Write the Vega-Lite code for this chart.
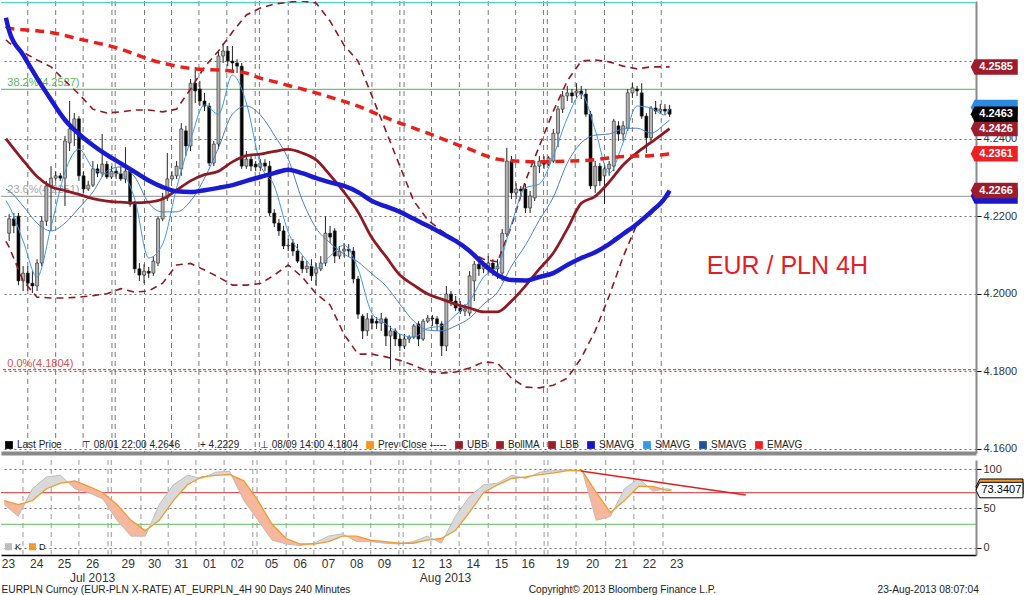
{
"$schema":"https://vega.github.io/schema/vega-lite/v6.json",
"padding":0,
"background":"white",
"spacing":5,
"config":{"view":{"stroke":null},"axis":{"labelFont":"Liberation Sans","titleFont":"Liberation Sans"},"legend":{"labelFont":"Liberation Sans"},"text":{"font":"Liberation Sans"}},
"datasets":{
"candles":[
{"n":1,"o":4.2156,"h":4.2205,"l":4.2136,"c":4.2193},{"n":2,"o":4.2193,"h":4.2208,"l":4.2156,"c":4.2175},{"n":3,"o":4.2200,"h":4.2208,"l":4.2022,"c":4.2033},{"n":4,"o":4.2033,"h":4.2071,"l":4.2007,"c":4.2053},{"n":5,"o":4.2053,"h":4.2071,"l":4.2007,"c":4.2027},{"n":6,"o":4.2027,"h":4.2058,"l":4.2002,"c":4.2020},{"n":7,"o":4.2020,"h":4.2089,"l":4.2007,"c":4.2079},{"n":8,"o":4.2079,"h":4.2200,"l":4.2071,"c":4.2187},{"n":9,"o":4.2187,"h":4.2291,"l":4.2175,"c":4.2278},{"n":10,"o":4.2278,"h":4.2329,"l":4.2162,"c":4.2298},
{"n":11,"o":4.2298,"h":4.2316,"l":4.2291,"c":4.2304},{"n":12,"o":4.2304,"h":4.2311,"l":4.2291,"c":4.2298},{"n":13,"o":4.2298,"h":4.2407,"l":4.2226,"c":4.2394},{"n":14,"o":4.2389,"h":4.2497,"l":4.2368,"c":4.2425},{"n":15,"o":4.2425,"h":4.2466,"l":4.2381,"c":4.2451},{"n":16,"o":4.2451,"h":4.2458,"l":4.2291,"c":4.2304},{"n":17,"o":4.2304,"h":4.2316,"l":4.2260,"c":4.2270},{"n":18,"o":4.2270,"h":4.2291,"l":4.2265,"c":4.2280},{"n":19,"o":4.2280,"h":4.2342,"l":4.2275,"c":4.2322},{"n":20,"o":4.2322,"h":4.2334,"l":4.2301,"c":4.2311},
{"n":21,"o":4.2311,"h":4.2412,"l":4.2301,"c":4.2334},{"n":22,"o":4.2334,"h":4.2342,"l":4.2296,"c":4.2301},{"n":23,"o":4.2301,"h":4.2329,"l":4.2296,"c":4.2316},{"n":24,"o":4.2316,"h":4.2324,"l":4.2296,"c":4.2309},{"n":25,"o":4.2309,"h":4.2329,"l":4.2291,"c":4.2296},{"n":26,"o":4.2296,"h":4.2378,"l":4.2285,"c":4.2316},{"n":27,"o":4.2316,"h":4.2322,"l":4.2224,"c":4.2231},{"n":28,"o":4.2231,"h":4.2239,"l":4.2053,"c":4.2064},{"n":29,"o":4.2064,"h":4.2079,"l":4.2033,"c":4.2048},{"n":30,"o":4.2048,"h":4.2076,"l":4.2027,"c":4.2058},
{"n":31,"o":4.2058,"h":4.2069,"l":4.2040,"c":4.2053},{"n":32,"o":4.2053,"h":4.2097,"l":4.2046,"c":4.2084},{"n":33,"o":4.2079,"h":4.2200,"l":4.2071,"c":4.2193},{"n":34,"o":4.2193,"h":4.2260,"l":4.2187,"c":4.2247},{"n":35,"o":4.2247,"h":4.2363,"l":4.2239,"c":4.2296},{"n":36,"o":4.2296,"h":4.2316,"l":4.2291,"c":4.2304},{"n":37,"o":4.2304,"h":4.2342,"l":4.2296,"c":4.2329},{"n":38,"o":4.2322,"h":4.2440,"l":4.2304,"c":4.2425},{"n":39,"o":4.2420,"h":4.2433,"l":4.2355,"c":4.2381},{"n":40,"o":4.2381,"h":4.2554,"l":4.2368,"c":4.2543},
{"n":41,"o":4.2543,"h":4.2585,"l":4.2492,"c":4.2523},{"n":42,"o":4.2528,"h":4.2549,"l":4.2484,"c":4.2497},{"n":43,"o":4.2497,"h":4.2518,"l":4.2471,"c":4.2484},{"n":44,"o":4.2484,"h":4.2492,"l":4.2329,"c":4.2337},{"n":45,"o":4.2337,"h":4.2394,"l":4.2329,"c":4.2386},{"n":46,"o":4.2386,"h":4.2626,"l":4.2373,"c":4.2613},{"n":47,"o":4.2613,"h":4.2646,"l":4.2595,"c":4.2626},{"n":48,"o":4.2626,"h":4.2639,"l":4.2587,"c":4.2600},{"n":49,"o":4.2600,"h":4.2639,"l":4.2574,"c":4.2595},{"n":50,"o":4.2595,"h":4.2605,"l":4.2569,"c":4.2587},
{"n":51,"o":4.2587,"h":4.2595,"l":4.2322,"c":4.2329},{"n":52,"o":4.2329,"h":4.2368,"l":4.2322,"c":4.2347},{"n":53,"o":4.2347,"h":4.2355,"l":4.2316,"c":4.2329},{"n":54,"o":4.2334,"h":4.2342,"l":4.2316,"c":4.2327},{"n":55,"o":4.2327,"h":4.2347,"l":4.2316,"c":4.2337},{"n":56,"o":4.2337,"h":4.2347,"l":4.2316,"c":4.2329},{"n":57,"o":4.2329,"h":4.2342,"l":4.2200,"c":4.2208},{"n":58,"o":4.2208,"h":4.2218,"l":4.2172,"c":4.2182},{"n":59,"o":4.2182,"h":4.2193,"l":4.2149,"c":4.2162},{"n":60,"o":4.2162,"h":4.2175,"l":4.2115,"c":4.2123},
{"n":61,"o":4.2123,"h":4.2141,"l":4.2110,"c":4.2125},{"n":62,"o":4.2131,"h":4.2141,"l":4.2097,"c":4.2110},{"n":63,"o":4.2110,"h":4.2128,"l":4.2079,"c":4.2084},{"n":64,"o":4.2084,"h":4.2097,"l":4.2053,"c":4.2064},{"n":65,"o":4.2064,"h":4.2084,"l":4.2053,"c":4.2071},{"n":66,"o":4.2071,"h":4.2089,"l":4.2033,"c":4.2046},{"n":67,"o":4.2053,"h":4.2079,"l":4.2020,"c":4.2064},{"n":68,"o":4.2064,"h":4.2097,"l":4.2058,"c":4.2079},{"n":69,"o":4.2079,"h":4.2200,"l":4.2071,"c":4.2156},{"n":70,"o":4.2156,"h":4.2175,"l":4.2131,"c":4.2146},
{"n":71,"o":4.2162,"h":4.2169,"l":4.2079,"c":4.2097},{"n":72,"o":4.2097,"h":4.2123,"l":4.2089,"c":4.2110},{"n":73,"o":4.2110,"h":4.2131,"l":4.2095,"c":4.2115},{"n":74,"o":4.2115,"h":4.2128,"l":4.2095,"c":4.2110},{"n":75,"o":4.2110,"h":4.2120,"l":4.2027,"c":4.2038},{"n":76,"o":4.2038,"h":4.2046,"l":4.1935,"c":4.1947},{"n":77,"o":4.1942,"h":4.1947,"l":4.1883,"c":4.1904},{"n":78,"o":4.1904,"h":4.1950,"l":4.1891,"c":4.1935},{"n":79,"o":4.1935,"h":4.1945,"l":4.1909,"c":4.1924},{"n":80,"o":4.1929,"h":4.1940,"l":4.1909,"c":4.1924},
{"n":81,"o":4.1924,"h":4.1950,"l":4.1904,"c":4.1935},{"n":82,"o":4.1935,"h":4.1940,"l":4.1865,"c":4.1891},{"n":83,"o":4.1891,"h":4.1917,"l":4.1804,"c":4.1904},{"n":84,"o":4.1904,"h":4.1911,"l":4.1865,"c":4.1883},{"n":85,"o":4.1883,"h":4.1896,"l":4.1852,"c":4.1865},{"n":86,"o":4.1865,"h":4.1896,"l":4.1857,"c":4.1883},{"n":87,"o":4.1883,"h":4.1893,"l":4.1873,"c":4.1888},{"n":88,"o":4.1888,"h":4.1922,"l":4.1883,"c":4.1917},{"n":89,"o":4.1922,"h":4.1929,"l":4.1865,"c":4.1883},{"n":90,"o":4.1883,"h":4.1935,"l":4.1878,"c":4.1929},
{"n":91,"o":4.1929,"h":4.1945,"l":4.1924,"c":4.1937},{"n":92,"o":4.1937,"h":4.1945,"l":4.1917,"c":4.1935},{"n":93,"o":4.1935,"h":4.1942,"l":4.1904,"c":4.1922},{"n":94,"o":4.1922,"h":4.1929,"l":4.1839,"c":4.1865},{"n":95,"o":4.1865,"h":4.2020,"l":4.1852,"c":4.1999},{"n":96,"o":4.1999,"h":4.2007,"l":4.1968,"c":4.1981},{"n":97,"o":4.1981,"h":4.1994,"l":4.1955,"c":4.1963},{"n":98,"o":4.1963,"h":4.1981,"l":4.1947,"c":4.1955},{"n":99,"o":4.1955,"h":4.1973,"l":4.1942,"c":4.1960},{"n":100,"o":4.1950,"h":4.2058,"l":4.1942,"c":4.2046},
{"n":101,"o":4.2033,"h":4.2084,"l":4.1981,"c":4.2076},{"n":102,"o":4.2076,"h":4.2084,"l":4.2046,"c":4.2064},{"n":103,"o":4.2064,"h":4.2084,"l":4.2053,"c":4.2071},{"n":104,"o":4.2071,"h":4.2097,"l":4.2053,"c":4.2079},{"n":105,"o":4.2079,"h":4.2089,"l":4.2046,"c":4.2064},{"n":106,"o":4.2064,"h":4.2089,"l":4.2038,"c":4.2071},{"n":107,"o":4.2053,"h":4.2167,"l":4.2033,"c":4.2156},{"n":108,"o":4.2154,"h":4.2376,"l":4.2146,"c":4.2342},{"n":109,"o":4.2342,"h":4.2355,"l":4.2244,"c":4.2260},{"n":110,"o":4.2260,"h":4.2285,"l":4.2244,"c":4.2270},
{"n":111,"o":4.2270,"h":4.2278,"l":4.2252,"c":4.2265},{"n":112,"o":4.2270,"h":4.2283,"l":4.2208,"c":4.2221},{"n":113,"o":4.2221,"h":4.2265,"l":4.2208,"c":4.2252},{"n":114,"o":4.2247,"h":4.2342,"l":4.2239,"c":4.2329},{"n":115,"o":4.2329,"h":4.2355,"l":4.2311,"c":4.2342},{"n":116,"o":4.2342,"h":4.2355,"l":4.2322,"c":4.2334},{"n":117,"o":4.2334,"h":4.2355,"l":4.2329,"c":4.2350},{"n":118,"o":4.2342,"h":4.2425,"l":4.2337,"c":4.2414},{"n":119,"o":4.2414,"h":4.2484,"l":4.2378,"c":4.2476},{"n":120,"o":4.2476,"h":4.2523,"l":4.2466,"c":4.2510},
{"n":121,"o":4.2510,"h":4.2536,"l":4.2497,"c":4.2518},{"n":122,"o":4.2518,"h":4.2528,"l":4.2492,"c":4.2510},{"n":123,"o":4.2518,"h":4.2543,"l":4.2505,"c":4.2523},{"n":124,"o":4.2523,"h":4.2536,"l":4.2502,"c":4.2515},{"n":125,"o":4.2515,"h":4.2528,"l":4.2456,"c":4.2463},{"n":126,"o":4.2463,"h":4.2471,"l":4.2270,"c":4.2278},{"n":127,"o":4.2278,"h":4.2342,"l":4.2260,"c":4.2329},{"n":128,"o":4.2329,"h":4.2337,"l":4.2278,"c":4.2291},{"n":129,"o":4.2304,"h":4.2334,"l":4.2231,"c":4.2322},{"n":130,"o":4.2322,"h":4.2342,"l":4.2304,"c":4.2334},
{"n":131,"o":4.2329,"h":4.2451,"l":4.2316,"c":4.2445},{"n":132,"o":4.2433,"h":4.2445,"l":4.2394,"c":4.2412},{"n":133,"o":4.2412,"h":4.2445,"l":4.2394,"c":4.2433},{"n":134,"o":4.2427,"h":4.2528,"l":4.2420,"c":4.2518},{"n":135,"o":4.2518,"h":4.2543,"l":4.2505,"c":4.2531},{"n":136,"o":4.2528,"h":4.2536,"l":4.2510,"c":4.2523},{"n":137,"o":4.2518,"h":4.2543,"l":4.2451,"c":4.2458},{"n":138,"o":4.2458,"h":4.2466,"l":4.2363,"c":4.2402},{"n":139,"o":4.2402,"h":4.2484,"l":4.2394,"c":4.2479},{"n":140,"o":4.2479,"h":4.2497,"l":4.2463,"c":4.2471},
{"n":141,"o":4.2471,"h":4.2489,"l":4.2463,"c":4.2476},{"n":142,"o":4.2476,"h":4.2489,"l":4.2461,"c":4.2471},{"n":143,"o":4.2476,"h":4.2487,"l":4.2456,"c":4.2463}
],
"lines":[
{"n":0.3,"ema":4.2690,"sma":4.2712,"bma":4.2400,"ubb":4.2655,"lbb":4.2135,"fast":4.2240,"slow":4.2270},
{"n":1,"ema":4.2685,"sma":4.2678,"bma":4.2389,"ubb":4.2647,"lbb":4.2120,"fast":4.2226,"slow":4.2265},
{"n":4,"ema":4.2681,"sma":4.2616,"bma":4.2344,"ubb":4.2623,"lbb":4.2033,"fast":4.2136,"slow":4.2226},
{"n":7,"ema":4.2678,"sma":4.2556,"bma":4.2302,"ubb":4.2603,"lbb":4.1991,"fast":4.2043,"slow":4.2182},
{"n":10,"ema":4.2674,"sma":4.2500,"bma":4.2276,"ubb":4.2585,"lbb":4.1989,"fast":4.2172,"slow":4.2162},
{"n":13,"ema":4.2666,"sma":4.2448,"bma":4.2266,"ubb":4.2549,"lbb":4.1989,"fast":4.2314,"slow":4.2182},
{"n":16,"ema":4.2657,"sma":4.2412,"bma":4.2256,"ubb":4.2515,"lbb":4.1991,"fast":4.2373,"slow":4.2221},
{"n":19,"ema":4.2649,"sma":4.2383,"bma":4.2245,"ubb":4.2476,"lbb":4.1995,"fast":4.2324,"slow":4.2262},
{"n":22,"ema":4.2641,"sma":4.2358,"bma":4.2239,"ubb":4.2466,"lbb":4.2000,"fast":4.2309,"slow":4.2316},
{"n":25,"ema":4.2631,"sma":4.2336,"bma":4.2236,"ubb":4.2469,"lbb":4.2013,"fast":4.2311,"slow":4.2327},
{"n":28,"ema":4.2618,"sma":4.2314,"bma":4.2234,"ubb":4.2474,"lbb":4.2004,"fast":4.2244,"slow":4.2301},
{"n":31,"ema":4.2605,"sma":4.2292,"bma":4.2236,"ubb":4.2474,"lbb":4.2007,"fast":4.2092,"slow":4.2234},
{"n":34,"ema":4.2595,"sma":4.2275,"bma":4.2244,"ubb":4.2469,"lbb":4.2027,"fast":4.2128,"slow":4.2211},
{"n":37,"ema":4.2587,"sma":4.2264,"bma":4.2267,"ubb":4.2476,"lbb":4.2074,"fast":4.2273,"slow":4.2211},
{"n":40,"ema":4.2581,"sma":4.2262,"bma":4.2291,"ubb":4.2528,"lbb":4.2078,"fast":4.2396,"slow":4.2239},
{"n":43,"ema":4.2578,"sma":4.2267,"bma":4.2307,"ubb":4.2585,"lbb":4.2061,"fast":4.2487,"slow":4.2298},
{"n":46,"ema":4.2577,"sma":4.2273,"bma":4.2316,"ubb":4.2626,"lbb":4.2043,"fast":4.2463,"slow":4.2376},
{"n":49,"ema":4.2574,"sma":4.2280,"bma":4.2340,"ubb":4.2675,"lbb":4.2022,"fast":4.2564,"slow":4.2463},
{"n":52,"ema":4.2569,"sma":4.2291,"bma":4.2356,"ubb":4.2719,"lbb":4.2022,"fast":4.2492,"slow":4.2484},
{"n":55,"ema":4.2556,"sma":4.2301,"bma":4.2360,"ubb":4.2737,"lbb":4.2026,"fast":4.2334,"slow":4.2461},
{"n":58,"ema":4.2547,"sma":4.2311,"bma":4.2367,"ubb":4.2747,"lbb":4.2048,"fast":4.2278,"slow":4.2409},
{"n":61,"ema":4.2537,"sma":4.2320,"bma":4.2372,"ubb":4.2752,"lbb":4.2074,"fast":4.2159,"slow":4.2347},
{"n":64,"ema":4.2528,"sma":4.2311,"bma":4.2363,"ubb":4.2755,"lbb":4.2043,"fast":4.2100,"slow":4.2242},
{"n":67,"ema":4.2518,"sma":4.2298,"bma":4.2345,"ubb":4.2750,"lbb":4.2000,"fast":4.2066,"slow":4.2169},
{"n":70,"ema":4.2507,"sma":4.2287,"bma":4.2306,"ubb":4.2703,"lbb":4.1971,"fast":4.2097,"slow":4.2131},
{"n":73,"ema":4.2496,"sma":4.2278,"bma":4.2262,"ubb":4.2641,"lbb":4.1895,"fast":4.2125,"slow":4.2102},
{"n":76,"ema":4.2484,"sma":4.2262,"bma":4.2211,"ubb":4.2600,"lbb":4.1844,"fast":4.2064,"slow":4.2082},
{"n":79,"ema":4.2469,"sma":4.2239,"bma":4.2144,"ubb":4.2510,"lbb":4.1844,"fast":4.1950,"slow":4.2051},
{"n":82,"ema":4.2454,"sma":4.2225,"bma":4.2096,"ubb":4.2420,"lbb":4.1837,"fast":4.1922,"slow":4.2020},
{"n":85,"ema":4.2440,"sma":4.2211,"bma":4.2048,"ubb":4.2329,"lbb":4.1828,"fast":4.1896,"slow":4.1973},
{"n":88,"ema":4.2427,"sma":4.2193,"bma":4.2022,"ubb":4.2239,"lbb":4.1815,"fast":4.1888,"slow":4.1929},
{"n":91,"ema":4.2414,"sma":4.2175,"bma":4.1999,"ubb":4.2190,"lbb":4.1800,"fast":4.1911,"slow":4.1906},
{"n":94,"ema":4.2400,"sma":4.2156,"bma":4.1986,"ubb":4.2162,"lbb":4.1795,"fast":4.1917,"slow":4.1904},
{"n":97,"ema":4.2386,"sma":4.2136,"bma":4.1973,"ubb":4.2136,"lbb":4.1798,"fast":4.1945,"slow":4.1917},
{"n":100,"ema":4.2373,"sma":4.2110,"bma":4.1963,"ubb":4.2107,"lbb":4.1808,"fast":4.1981,"slow":4.1937},
{"n":103,"ema":4.2358,"sma":4.2076,"bma":4.1953,"ubb":4.2089,"lbb":4.1824,"fast":4.2043,"slow":4.1973},
{"n":106,"ema":4.2347,"sma":4.2048,"bma":4.1953,"ubb":4.2082,"lbb":4.1821,"fast":4.2069,"slow":4.2004},
{"n":109,"ema":4.2343,"sma":4.2035,"bma":4.1981,"ubb":4.2175,"lbb":4.1782,"fast":4.2180,"slow":4.2071},
{"n":112,"ema":4.2341,"sma":4.2034,"bma":4.2020,"ubb":4.2291,"lbb":4.1759,"fast":4.2273,"slow":4.2125},
{"n":115,"ema":4.2340,"sma":4.2043,"bma":4.2064,"ubb":4.2381,"lbb":4.1757,"fast":4.2283,"slow":4.2190},
{"n":118,"ema":4.2341,"sma":4.2053,"bma":4.2105,"ubb":4.2471,"lbb":4.1764,"fast":4.2355,"slow":4.2249},
{"n":121,"ema":4.2342,"sma":4.2074,"bma":4.2167,"ubb":4.2549,"lbb":4.1782,"fast":4.2453,"slow":4.2337},
{"n":124,"ema":4.2343,"sma":4.2092,"bma":4.2233,"ubb":4.2600,"lbb":4.1834,"fast":4.2515,"slow":4.2389},
{"n":127,"ema":4.2346,"sma":4.2107,"bma":4.2251,"ubb":4.2603,"lbb":4.1904,"fast":4.2422,"slow":4.2409},
{"n":130,"ema":4.2350,"sma":4.2128,"bma":4.2288,"ubb":4.2598,"lbb":4.1994,"fast":4.2311,"slow":4.2412},
{"n":133,"ema":4.2354,"sma":4.2154,"bma":4.2332,"ubb":4.2587,"lbb":4.2095,"fast":4.2389,"slow":4.2425},
{"n":136,"ema":4.2355,"sma":4.2180,"bma":4.2364,"ubb":4.2580,"lbb":4.2180,"fast":4.2484,"slow":4.2427},
{"n":139,"ema":4.2356,"sma":4.2211,"bma":4.2390,"ubb":4.2585,"lbb":4.2205,"fast":4.2479,"slow":4.2414},
{"n":142,"ema":4.2359,"sma":4.2247,"bma":4.2417,"ubb":4.2585,"lbb":4.2247,"fast":4.2461,"slow":4.2438},
{"n":143,"ema":4.2361,"sma":4.2266,"bma":4.2426,"ubb":4.2585,"lbb":4.2252,"fast":4.2477,"slow":4.2448}
],
"days":[{"n":5.0},{"n":11.0},{"n":16.9},{"n":23.1},{"n":23.8},{"n":30.1},{"n":35.9},{"n":41.8},{"n":47.8},{"n":53.9},{"n":54.8},{"n":61.0},{"n":66.9},{"n":73.1},{"n":79.0},{"n":85.0},{"n":85.9},{"n":91.8},{"n":97.8},{"n":104.0},{"n":109.9},{"n":115.9},{"n":116.7},{"n":122.7},{"n":129.0},{"n":135.0},{"n":141.2}],
"fib":[{"lvl":"50.0%","v":4.2751,"label":"50.0%(4.2751)"},{"lvl":"38.2%","v":4.2527,"label":"38.2%(4.2527)"},{"lvl":"23.6%","v":4.2251,"label":"23.6%(4.2251)"},{"lvl":"0.0%","v":4.1804,"label":"0.0%(4.1804)"}],
"tags":[{"s":"SMAVG1","v":4.2252,"t":""},{"s":"LBB","v":4.2266,"t":"4.2266"},{"s":"EMAVG","v":4.2361,"t":"4.2361"},{"s":"SMAVG2","v":4.2480,"t":""},{"s":"BollMA","v":4.2426,"t":"4.2426"},{"s":"Last","v":4.2463,"t":"4.2463"},{"s":"UBB","v":4.2585,"t":"4.2585"}],
"legendItems":[{"item":"Last Price"},{"item":"⊤ 08/01 22:00 4.2646"},{"item":"+ 4.2229"},{"item":"⊥ 08/09 14:00 4.1804"},{"item":"Prev Close -----"},{"item":"UBB"},{"item":"BollMA"},{"item":"LBB"},{"item":"SMAVG"},{"item":"SMAVG "},{"item":"SMAVG  "},{"item":"EMAVG"}],
"stoch":[
{"n":1,"k":55,"d":60,"sg":1,"ph":"dn"},{"n":4,"k":40,"d":55,"sg":1,"ph":"dn"},{"n":5.5,"k":57.5,"d":57.5,"sg":1,"ph":"dn"},
{"n":5.5,"k":57.5,"d":57.5,"sg":2,"ph":"up"},{"n":7,"k":75,"d":60,"sg":2,"ph":"up"},{"n":10,"k":90,"d":75,"sg":2,"ph":"up"},{"n":13,"k":92,"d":82,"sg":2,"ph":"up"},{"n":14.5,"k":83.5,"d":83.5,"sg":2,"ph":"up"},
{"n":14.5,"k":83.5,"d":83.5,"sg":3,"ph":"dn"},{"n":16,"k":75,"d":85,"sg":3,"ph":"dn"},{"n":19,"k":70,"d":78,"sg":3,"ph":"dn"},{"n":22,"k":62,"d":70,"sg":3,"ph":"dn"},{"n":25,"k":35,"d":55,"sg":3,"ph":"dn"},{"n":28,"k":15,"d":35,"sg":3,"ph":"dn"},{"n":31,"k":15,"d":22,"sg":3,"ph":"dn"},{"n":31.8,"k":25.4,"d":25.4,"sg":3,"ph":"dn"},
{"n":31.8,"k":25.4,"d":25.4,"sg":4,"ph":"up"},{"n":34,"k":55,"d":35,"sg":4,"ph":"up"},{"n":37,"k":80,"d":60,"sg":4,"ph":"up"},{"n":40,"k":92,"d":80,"sg":4,"ph":"up"},{"n":42.6,"k":88.6,"d":88.6,"sg":4,"ph":"up"},
{"n":42.6,"k":88.6,"d":88.6,"sg":5,"ph":"dn"},{"n":43,"k":88,"d":90,"sg":5,"ph":"dn"},{"n":44,"k":90.7,"d":90.7,"sg":5,"ph":"dn"},
{"n":44,"k":90.7,"d":90.7,"sg":6,"ph":"up"},{"n":46,"k":96,"d":92,"sg":6,"ph":"up"},{"n":49,"k":97,"d":93,"sg":6,"ph":"up"},{"n":49.4,"k":91.9,"d":91.9,"sg":6,"ph":"up"},
{"n":49.4,"k":91.9,"d":91.9,"sg":7,"ph":"dn"},{"n":52,"k":60,"d":85,"sg":7,"ph":"dn"},{"n":55,"k":35,"d":60,"sg":7,"ph":"dn"},{"n":58,"k":10,"d":30,"sg":7,"ph":"dn"},{"n":61,"k":5,"d":12,"sg":7,"ph":"dn"},{"n":64,"k":3,"d":5,"sg":7,"ph":"dn"},{"n":66,"k":5,"d":5,"sg":7,"ph":"dn"},
{"n":66,"k":5,"d":5,"sg":8,"ph":"up"},{"n":67,"k":6,"d":5,"sg":8,"ph":"up"},{"n":70,"k":15,"d":8,"sg":8,"ph":"up"},{"n":73,"k":18,"d":15,"sg":8,"ph":"up"},{"n":73.9,"k":15,"d":15,"sg":8,"ph":"up"},
{"n":73.9,"k":15,"d":15,"sg":9,"ph":"dn"},{"n":76,"k":8,"d":15,"sg":9,"ph":"dn"},{"n":79,"k":8,"d":10,"sg":9,"ph":"dn"},{"n":82,"k":6,"d":8,"sg":9,"ph":"dn"},{"n":85,"k":5,"d":6,"sg":9,"ph":"dn"},{"n":86,"k":6,"d":6,"sg":9,"ph":"dn"},
{"n":86,"k":6,"d":6,"sg":10,"ph":"up"},{"n":88,"k":8,"d":6,"sg":10,"ph":"up"},{"n":91,"k":15,"d":10,"sg":10,"ph":"up"},{"n":92.4,"k":10.9,"d":10.9,"sg":10,"ph":"up"},
{"n":92.4,"k":10.9,"d":10.9,"sg":11,"ph":"dn"},{"n":94,"k":6,"d":12,"sg":11,"ph":"dn"},{"n":94.75,"k":14.5,"d":14.5,"sg":11,"ph":"dn"},
{"n":94.75,"k":14.5,"d":14.5,"sg":12,"ph":"up"},{"n":97,"k":40,"d":22,"sg":12,"ph":"up"},{"n":100,"k":65,"d":45,"sg":12,"ph":"up"},{"n":103,"k":80,"d":70,"sg":12,"ph":"up"},{"n":106,"k":82,"d":80,"sg":12,"ph":"up"},{"n":109,"k":92,"d":88,"sg":12,"ph":"up"},{"n":111,"k":89.3,"d":89.3,"sg":12,"ph":"up"},
{"n":111,"k":89.3,"d":89.3,"sg":13,"ph":"dn"},{"n":112,"k":88,"d":90,"sg":13,"ph":"dn"},{"n":113.2,"k":91.2,"d":91.2,"sg":13,"ph":"dn"},
{"n":113.2,"k":91.2,"d":91.2,"sg":14,"ph":"up"},{"n":115,"k":96,"d":93,"sg":14,"ph":"up"},{"n":118,"k":98,"d":95,"sg":14,"ph":"up"},{"n":121,"k":99,"d":98,"sg":14,"ph":"up"},{"n":124,"k":98,"d":98,"sg":14,"ph":"up"},
{"n":124,"k":98,"d":98,"sg":15,"ph":"dn"},{"n":127,"k":35,"d":70,"sg":15,"ph":"dn"},{"n":130,"k":40,"d":45,"sg":15,"ph":"dn"},{"n":130.75,"k":48.75,"d":48.75,"sg":15,"ph":"dn"},
{"n":130.75,"k":48.75,"d":48.75,"sg":16,"ph":"up"},{"n":133,"k":75,"d":60,"sg":16,"ph":"up"},{"n":136,"k":88,"d":78,"sg":16,"ph":"up"},{"n":137.9,"k":78,"d":78,"sg":16,"ph":"up"},
{"n":137.9,"k":78,"d":78,"sg":17,"ph":"dn"},{"n":139,"k":72,"d":78,"sg":17,"ph":"dn"},{"n":141.25,"k":74.25,"d":74.25,"sg":17,"ph":"dn"},
{"n":141.25,"k":74.25,"d":74.25,"sg":18,"ph":"up"},{"n":142,"k":75,"d":73,"sg":18,"ph":"up"},{"n":143,"k":74,"d":73.34,"sg":18,"ph":"up"}
],
"levels":[{"lv":"hi","v":70},{"lv":"lo","v":30}],
"trend":[{"n1":123.7,"v1":97.5,"n2":158.8,"v2":67.1}],
"stochTags":[{"s":"pd","v":77.5,"t":""},{"s":"pk","v":73.34,"t":"73.3407"}],
"stochLegend":[{"item":"K"},{"item":"D"}]
},
"vconcat":[
{
"width":975,"height":452,
"resolve":{"scale":{"color":"independent","strokeDash":"independent"}},
"layer":[
{"data":{"name":"days"},"mark":{"type":"rule","color":"#7a7a7a","strokeWidth":1,"strokeDash":[5,4]},
 "encoding":{"x":{"field":"n","type":"quantitative","title":null,"scale":{"domain":[0.32,207.8],"nice":false,"zero":false},"axis":{"orient":"bottom","labels":false,"ticks":false,"grid":false,"domain":true,"domainColor":"#8a8a8a","domainWidth":4,"title":null}}}},
{"data":{"name":"fib"},"mark":{"type":"rule","strokeWidth":1.2},
 "encoding":{"y":{"field":"v","type":"quantitative","title":null,"scale":{"domain":[4.1589,4.2755],"nice":false,"zero":false},
   "axis":{"orient":"right","zindex":0,"values":[4.16,4.18,4.2,4.22,4.24,4.26],"labelExpr":"datum.value > 4.255 ? '' : format(datum.value, '.4f')","grid":true,"gridDash":[2,3],"gridColor":"#6e6e6e","gridWidth":1,"domainColor":"#8a8a8a","domainWidth":2,"tickColor":"#000","tickSize":5,"labelFontSize":11,"labelColor":"#333","labelPadding":2,"title":null}},
  "color":{"field":"lvl","type":"nominal","legend":null,"scale":{"domain":["50.0%","38.2%","23.6%","0.0%"],"range":["#4fd0d6","#6cc46c","#a8a8a8","#d9534f"]}},
  "strokeDash":{"field":"lvl","type":"nominal","legend":null,"scale":{"domain":["50.0%","38.2%","23.6%","0.0%"],"range":[[1,0],[1,0],[1,0],[3,2]]}}}},
{"data":{"name":"fib"},"transform":[{"filter":"datum.lvl != '50.0%'"}],"mark":{"type":"text","align":"left","baseline":"bottom","dy":-1,"fontSize":11},
 "encoding":{"x":{"datum":0.6,"type":"quantitative"},"y":{"field":"v","type":"quantitative","title":null},"text":{"field":"label"},
  "color":{"field":"lvl","type":"nominal","legend":null,"scale":{"domain":["50.0%","38.2%","23.6%","0.0%"],"range":["#4fd0d6","#5cb85c","#a8a8a8","#d9534f"]}}}},
{"data":{"name":"candles"},"mark":{"type":"rule","color":"#222","strokeWidth":1,"clip":true},
 "encoding":{"x":{"field":"n","type":"quantitative","title":null},"y":{"field":"l","type":"quantitative","title":null},"y2":{"field":"h"}}},
{"data":{"name":"candles"},"mark":{"type":"bar","width":3,"stroke":"#222","strokeWidth":0.6,"clip":true},
 "encoding":{"x":{"field":"n","type":"quantitative","title":null},"y":{"field":"o","type":"quantitative","title":null},"y2":{"field":"c"},
  "color":{"condition":{"test":"datum.c >= datum.o","value":"#b3b3b3"},"value":"#000000"}}},
{"data":{"name":"lines"},"mark":{"type":"line","color":"#8e1b24","strokeWidth":1.6,"strokeDash":[7,5],"clip":true},
 "encoding":{"x":{"field":"n","type":"quantitative","title":null},"y":{"field":"ubb","type":"quantitative","title":null}}},
{"data":{"name":"lines"},"mark":{"type":"line","color":"#8e1b24","strokeWidth":1.6,"strokeDash":[7,5],"clip":true},
 "encoding":{"x":{"field":"n","type":"quantitative","title":null},"y":{"field":"lbb","type":"quantitative","title":null}}},
{"data":{"name":"lines"},"mark":{"type":"line","color":"#4a7fc0","strokeWidth":1,"clip":true,"interpolate":"monotone"},
 "encoding":{"x":{"field":"n","type":"quantitative","title":null},"y":{"field":"slow","type":"quantitative","title":null}}},
{"data":{"name":"lines"},"mark":{"type":"line","color":"#3a9ae6","strokeWidth":1,"clip":true,"interpolate":"monotone"},
 "encoding":{"x":{"field":"n","type":"quantitative","title":null},"y":{"field":"fast","type":"quantitative","title":null}}},
{"data":{"name":"lines"},"mark":{"type":"line","color":"#8e1b24","strokeWidth":2.8,"clip":true,"interpolate":"monotone"},
 "encoding":{"x":{"field":"n","type":"quantitative","title":null},"y":{"field":"bma","type":"quantitative","title":null}}},
{"data":{"name":"lines"},"mark":{"type":"line","color":"#e8201c","strokeWidth":3.5,"strokeDash":[9,6],"clip":true,"interpolate":"monotone"},
 "encoding":{"x":{"field":"n","type":"quantitative","title":null},"y":{"field":"ema","type":"quantitative","title":null}}},
{"data":{"name":"lines"},"mark":{"type":"line","color":"#1a1ad2","strokeWidth":4.5,"clip":true,"interpolate":"monotone"},
 "encoding":{"x":{"field":"n","type":"quantitative","title":null},"y":{"field":"sma","type":"quantitative","title":null}}},
{"data":{"values":[{"t":"EUR / PLN 4H"}]},"mark":{"type":"text","fontSize":25,"color":"#e31e24","align":"left","baseline":"middle"},
 "encoding":{"x":{"datum":151,"type":"quantitative"},"y":{"datum":4.2071,"type":"quantitative"},"text":{"field":"t"}}},
{"data":{"name":"tags"},"mark":{"type":"point","shape":"M-1,0L-0.84,-0.33L1,-0.33L1,0.33L-0.84,0.33Z","filled":true,"size":2209,"opacity":1},
 "encoding":{"x":{"datum":212.8,"type":"quantitative"},"y":{"field":"v","type":"quantitative","title":null},
  "color":{"field":"s","type":"nominal","legend":null,"scale":{"domain":["SMAVG1","LBB","EMAVG","SMAVG2","BollMA","Last","UBB"],"range":["#1818c8","#9c1c2c","#ee2024","#2a8ae0","#9c1c2c","#000000","#9c1c2c"]}}}},
{"data":{"name":"tags"},"mark":{"type":"text","color":"white","fontSize":11,"fontWeight":"bold","align":"center","baseline":"middle"},
 "encoding":{"x":{"datum":213.2,"type":"quantitative"},"y":{"field":"v","type":"quantitative","title":null},"text":{"field":"t"}}},
{"data":{"name":"legendItems"},"mark":{"type":"point","filled":true,"opacity":0},
 "encoding":{"color":{"field":"item","type":"nominal","scale":{"domain":["Last Price","⊤ 08/01 22:00 4.2646","+ 4.2229","⊥ 08/09 14:00 4.1804","Prev Close -----","UBB","BollMA","LBB","SMAVG","SMAVG ","SMAVG  ","EMAVG"],"range":["#000000","rgba(0,0,0,0)","rgba(0,0,0,0)","rgba(0,0,0,0)","#f7941d","#9c1c2c","#9c1c2c","#9c1c2c","#1414c8","#3399ee","#1f4f9a","#ee2024"]},
  "legend":{"title":null,"orient":"bottom-left","direction":"horizontal","columns":12,"symbolType":"square","symbolSize":60,"symbolOpacity":1,"symbolStrokeWidth":0,"labelFontSize":10,"labelColor":"#222","labelOffset":3,"columnPadding":7,"offset":3,"padding":0}}}}
]
},
{
"width":975,"height":95,
"resolve":{"scale":{"color":"independent"}},
"layer":[
{"data":{"name":"days"},"mark":{"type":"rule","color":"#9a9a9a","strokeWidth":1,"strokeDash":[5,4]},
 "encoding":{"x":{"field":"n","type":"quantitative","scale":{"domain":[0.32,207.8],"nice":false,"zero":false},
  "axis":{"orient":"bottom","values":[1.8,7.8,13.7,19.7,27.3,32.9,38.6,44.6,50.5,57.8,63.9,69.9,75.9,81.8,89,94.8,100.7,106.7,112.4,119.7,126.1,132.2,138.2,144],
   "labelExpr":"({'1.8':'23','7.8':'24','13.7':'25','19.7':['26','Jul 2013'],'27.3':'29','32.9':'30','38.6':'31','44.6':'01','50.5':'02','57.8':'05','63.9':'06','69.9':'07','75.9':'08','81.8':'09','89':'12','94.8':['13','Aug 2013'],'100.7':'14','106.7':'15','112.4':'16','119.7':'19','126.1':'20','132.2':'21','138.2':'22','144':'23'})['' + datum.value]",
   "labelOverlap":false,"labelFlush":false,"labelBound":false,"labelFontSize":12,"labelColor":"#333","labelPadding":3,"labelLineHeight":14,"labelBaseline":"top",
   "ticks":false,"grid":false,"domain":true,"domainColor":"#000","domainWidth":1.5,
   "title":"EURPLN Curncy (EUR-PLN X-RATE) AT_EURPLN_4H 90 Days 240 Minutes\u00a0\u00a0\u00a0\u00a0\u00a0\u00a0\u00a0\u00a0\u00a0\u00a0\u00a0\u00a0\u00a0\u00a0\u00a0\u00a0\u00a0\u00a0\u00a0\u00a0\u00a0\u00a0\u00a0\u00a0\u00a0\u00a0\u00a0\u00a0\u00a0\u00a0\u00a0\u00a0\u00a0\u00a0\u00a0\u00a0\u00a0\u00a0\u00a0\u00a0\u00a0\u00a0\u00a0\u00a0\u00a0\u00a0\u00a0\u00a0\u00a0\u00a0\u00a0\u00a0\u00a0\u00a0\u00a0\u00a0\u00a0\u00a0\u00a0\u00a0\u00a0\u00a0\u00a0Copyright© 2013 Bloomberg Finance L.P.\u00a0\u00a0\u00a0\u00a0\u00a0\u00a0\u00a0\u00a0\u00a0\u00a0\u00a0\u00a0\u00a0\u00a0\u00a0\u00a0\u00a0\u00a0\u00a0\u00a0\u00a0\u00a0\u00a0\u00a0\u00a0\u00a0\u00a0\u00a0\u00a0\u00a0\u00a0\u00a0\u00a0\u00a0\u00a0\u00a0\u00a0\u00a0\u00a0\u00a0\u00a0\u00a0\u00a0\u00a0\u00a0\u00a0\u00a0\u00a0\u00a0\u00a0\u00a0\u00a0\u00a0\u00a0\u00a0\u00a0\u00a023-Aug-2013 08:07:04",
   "titleAnchor":"start","titleAlign":"left","titleFontSize":10.2,"titleFontWeight":"normal","titleColor":"#222","titlePadding":1}}}},
{"data":{"name":"levels"},"mark":{"type":"rule","strokeWidth":1},
 "encoding":{"y":{"field":"v","type":"quantitative","scale":{"domain":[-8.9,111.4],"nice":false,"zero":false},
   "axis":{"orient":"right","zindex":0,"values":[0,50,100],"grid":true,"gridDash":[2,3],"gridColor":"#6e6e6e","domainColor":"#8a8a8a","domainWidth":2,"tickColor":"#000","tickSize":5,"labelFontSize":11,"labelColor":"#333","labelPadding":2,"title":null}},
  "color":{"field":"lv","type":"nominal","legend":null,"scale":{"domain":["hi","lo"],"range":["#d93030","#5cc05c"]}}}},
{"data":{"name":"stoch"},"mark":{"type":"area","opacity":1,"clip":true},
 "encoding":{"x":{"field":"n","type":"quantitative"},"y":{"field":"k","type":"quantitative"},"y2":{"field":"d"},"detail":{"field":"sg","type":"nominal"},
  "color":{"field":"ph","type":"nominal","legend":null,"scale":{"domain":["up","dn"],"range":["#d9d9d9","#f6b79c"]}}}},
{"data":{"name":"stoch"},"mark":{"type":"line","color":"#bdbdbd","strokeWidth":1,"clip":true},
 "encoding":{"x":{"field":"n","type":"quantitative"},"y":{"field":"k","type":"quantitative"}}},
{"data":{"name":"stoch"},"mark":{"type":"line","color":"#f29a2e","strokeWidth":1.3,"clip":true},
 "encoding":{"x":{"field":"n","type":"quantitative"},"y":{"field":"d","type":"quantitative"}}},
{"data":{"name":"trend"},"mark":{"type":"rule","color":"#e02020","strokeWidth":1.5},
 "encoding":{"x":{"field":"n1","type":"quantitative"},"y":{"field":"v1","type":"quantitative"},"x2":{"field":"n2"},"y2":{"field":"v2"}}},
{"data":{"name":"stochTags"},"mark":{"type":"point","shape":"M-1,0L-0.84,-0.33L1,-0.33L1,0.33L-0.84,0.33Z","filled":true,"size":2209,"stroke":"#000","strokeWidth":1,"opacity":1},
 "encoding":{"x":{"datum":212.8,"type":"quantitative"},"y":{"field":"v","type":"quantitative"},
  "color":{"field":"s","type":"nominal","legend":null,"scale":{"domain":["pd","pk"],"range":["#f29a2e","#ffffff"]}}}},
{"data":{"name":"stochTags"},"mark":{"type":"text","color":"#000","fontSize":11,"align":"center","baseline":"middle"},
 "encoding":{"x":{"datum":213.2,"type":"quantitative"},"y":{"field":"v","type":"quantitative"},"text":{"field":"t"}}},
{"data":{"name":"stochLegend"},"mark":{"type":"point","filled":true,"opacity":0},
 "encoding":{"color":{"field":"item","type":"nominal","scale":{"domain":["K","D"],"range":["#bdbdbd","#f29a2e"]},
  "legend":{"title":null,"orient":"bottom-left","direction":"horizontal","columns":2,"symbolType":"square","symbolSize":50,"symbolOpacity":1,"symbolStrokeWidth":0,"labelFontSize":9,"labelColor":"#222","labelOffset":2,"columnPadding":6,"offset":3,"padding":0}}}}
]
}
]
}
